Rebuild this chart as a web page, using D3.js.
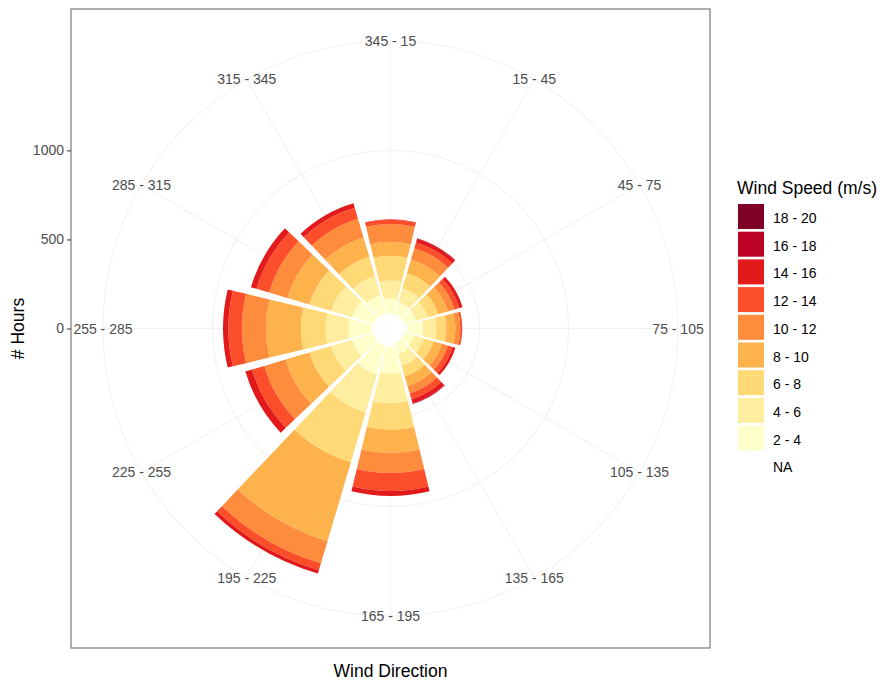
<!DOCTYPE html>
<html>
<head>
<meta charset="utf-8">
<script src="https://cdn.jsdelivr.net/npm/d3@7"></script>
<style>
  body { margin: 0; background: #fff; }
  text { font-family: "Liberation Sans", Arial, sans-serif; }
</style>
</head>
<body>
<svg class="chart" width="883" height="681"></svg>
<script>
const width = 883;
const height = 681;
const svg = d3.select(".chart");

// direction sectors, clockwise from north
const directions = ["345 - 15", "15 - 45", "45 - 75", "75 - 105", "105 - 135", "135 - 165",
    "165 - 195", "195 - 225", "225 - 255", "255 - 285", "285 - 315", "315 - 345"];

// speed bins, inner (first stacked) to outer
const speedBins = ["NA", "2 - 4", "4 - 6", "6 - 8", "8 - 10", "10 - 12", "12 - 14", "14 - 16", "16 - 18", "18 - 20"];
const binColors = ["#FFFFFF", "#FFFFCC", "#FFEDA0", "#FED976", "#FEB24C", "#FD8D3C", "#FC4E2A", "#E31A1C", "#BD0026", "#800026"];

// hours per direction for each speed bin
const hoursNA     = [84, 84, 84, 90, 84, 84, 101, 101, 101, 106, 95, 90];
const hours2to4   = [84, 73, 67, 95, 56, 67, 151, 168, 123, 129, 129, 106];
const hours4to6   = [101, 78, 67, 73, 56, 67, 168, 223, 123, 129, 123, 112];
const hours6to8   = [139, 90, 62, 56, 56, 62, 148, 291, 129, 140, 129, 112];
const hours8to10  = [79, 78, 56, 50, 50, 56, 131, 462, 139, 195, 128, 112];
const hours10to12 = [100, 67, 39, 28, 34, 44, 112, 130, 124, 135, 107, 111];
const hours12to14 = [23, 34, 28, 11, 28, 34, 101, 40, 72, 76, 74, 64];
const hours14to16 = [3, 21, 19, 0, 16, 24, 28, 20, 39, 30, 32, 26];
const hours16to18 = [0, 4, 0, 0, 0, 4, 0, 0, 0, 0, 0, 0];
const hours18to20 = [0, 0, 0, 0, 0, 0, 0, 0, 0, 0, 0, 0];

const speedSeries = [hoursNA, hours2to4, hours4to6, hours6to8, hours8to10,
    hours10to12, hours12to14, hours14to16, hours16to18, hours18to20];

const radialTicks = [0, 500, 1000];

// panel (square, like coord_polar)
const panelX = 71;
const panelY = 9;
const panelSize = 639;
const cx = panelX + panelSize / 2;
const cy = panelY + panelSize / 2;

const rows = directions.map((dir, i) => {
    const row = { dir: dir };
    speedBins.forEach((b, j) => { row[b] = speedSeries[j][i]; });
    return row;
});

const stackedData = d3.stack().keys(speedBins)(rows);
const maxTotal = d3.max(stackedData[stackedData.length - 1], d => d[1]);

const theta = d3.scaleBand()
    .domain(directions)
    .range([-Math.PI / 12, 2 * Math.PI - Math.PI / 12])
    .paddingInner(0.1)
    .paddingOuter(0.05);

const rScale = d3.scaleLinear()
    .domain([0, maxTotal])
    .range([0, 0.4 * panelSize]);

const color = d3.scaleOrdinal().domain(speedBins).range(binColors);

const outerR = 0.45 * panelSize;
const midAngle = d => theta(d) + theta.bandwidth() / 2;

// grid
const grid = svg.append("g").attr("transform", `translate(${cx},${cy})`);

grid.selectAll(".spoke")
    .data(directions)
    .enter()
    .append("line")
    .attr("x1", 0).attr("y1", 0)
    .attr("x2", d => outerR * Math.sin(midAngle(d)))
    .attr("y2", d => -outerR * Math.cos(midAngle(d)))
    .style("stroke", "#F2F2F2")
    .style("stroke-width", 1.1);

grid.selectAll(".ring")
    .data(radialTicks.map(t => rScale(t)).concat([outerR]))
    .enter()
    .append("circle")
    .attr("r", d => d)
    .style("fill", "none")
    .style("stroke", "#F2F2F2")
    .style("stroke-width", 1.1);

// stacked wedges
const arc = d3.arc()
    .innerRadius(d => rScale(d[0]))
    .outerRadius(d => rScale(d[1]))
    .startAngle(d => theta(d.data.dir))
    .endAngle(d => theta(d.data.dir) + theta.bandwidth());

const bars = svg.append("g").attr("transform", `translate(${cx},${cy})`);

bars.selectAll(".layer")
    .data(stackedData)
    .enter()
    .append("g")
    .style("fill", d => color(d.key))
    .selectAll("path")
    .data(d => d.filter(p => p[1] > p[0]))
    .enter()
    .append("path")
    .attr("d", arc);

// direction labels
svg.append("g")
    .attr("transform", `translate(${cx},${cy})`)
    .selectAll("text")
    .data(directions)
    .enter()
    .append("text")
    .attr("x", d => outerR * Math.sin(midAngle(d)))
    .attr("y", d => -outerR * Math.cos(midAngle(d)))
    .attr("text-anchor", "middle")
    .attr("dominant-baseline", "central")
    .style("font-size", "14px")
    .style("fill", "#4D4D4D")
    .text(d => d);

// panel border
svg.append("rect")
    .attr("x", panelX)
    .attr("y", panelY)
    .attr("width", panelSize)
    .attr("height", panelSize)
    .style("fill", "none")
    .style("stroke", "#6E6E6E")
    .style("stroke-width", 1.1);

// radial axis on the left
const yAxisScale = d3.scaleLinear()
    .domain([0, maxTotal])
    .range([cy, cy - 0.4 * panelSize]);

const yAxis = svg.append("g")
    .attr("transform", `translate(${panelX},0)`)
    .call(d3.axisLeft(yAxisScale)
        .tickValues(radialTicks)
        .tickFormat(d3.format("d"))
        .tickSize(4)
        .tickPadding(3));

yAxis.select(".domain").remove();
yAxis.selectAll("line").style("stroke", "#333");
yAxis.selectAll("text")
    .style("font-size", "14px")
    .style("fill", "#4D4D4D")
    .style("font-family", "\"Liberation Sans\", Arial, sans-serif");

// axis titles
svg.append("text")
    .attr("transform", `translate(24,${cy}) rotate(-90)`)
    .attr("text-anchor", "middle")
    .style("font-size", "17.5px")
    .text("# Hours");

svg.append("text")
    .attr("x", cx)
    .attr("y", 677)
    .attr("text-anchor", "middle")
    .style("font-size", "17.5px")
    .text("Wind Direction");

// legend
const legend = svg.append("g").attr("transform", "translate(738,204)");

legend.append("text")
    .attr("x", -1)
    .attr("y", -10)
    .style("font-size", "17.5px")
    .text("Wind Speed (m/s)");

const legendItems = legend.selectAll(".legend-item")
    .data(speedBins.slice().reverse())
    .enter()
    .append("g")
    .attr("transform", (d, i) => `translate(0,${i * 27.7})`);

legendItems.append("rect")
    .attr("width", 26)
    .attr("height", 25)
    .style("fill", d => color(d));

legendItems.append("text")
    .attr("x", 35)
    .attr("y", 19)
    .style("font-size", "14px")
    .text(d => d);
</script>
</body>
</html>
